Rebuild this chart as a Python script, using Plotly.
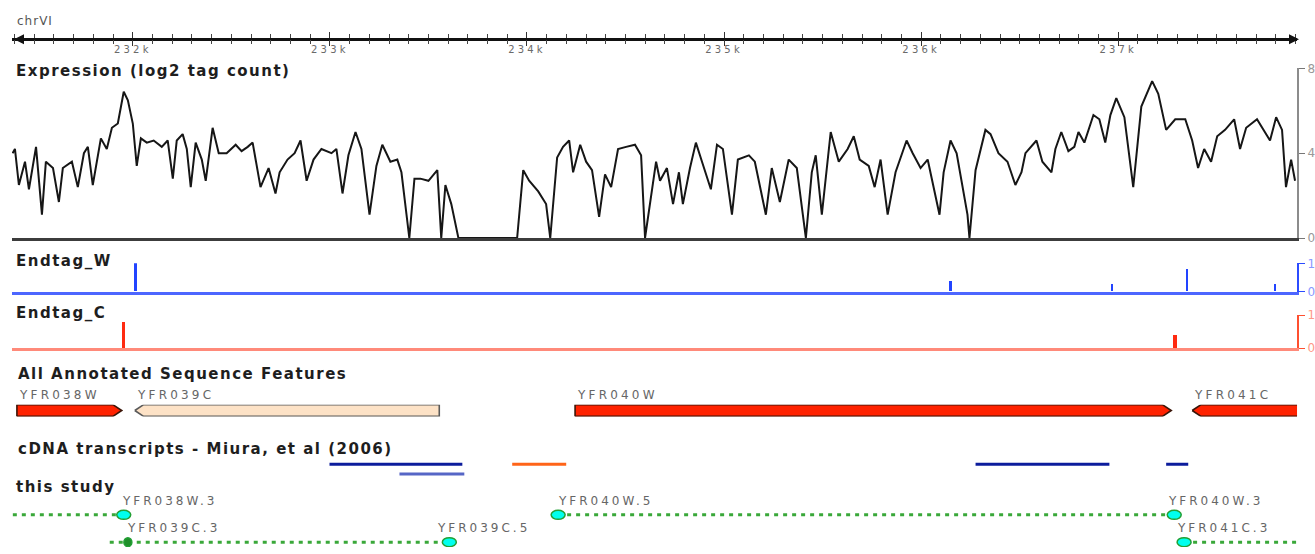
import plotly.graph_objects as go

W, H = 1315, 554

# ---- genome window and ruler ----
view_start, view_end = 231387, 237907
ruler_ticks = [232000, 233000, 234000, 235000, 236000, 237000]
ruler_labels = ["232k", "233k", "234k", "235k", "236k", "237k"]

# ---- expression track (log2 tag count) ----
expr_pos = [
    231390, 231402, 231422, 231453, 231473, 231509, 231539, 231559, 231595, 231625,
    231645, 231691, 231721, 231752, 231772, 231797, 231838, 231868, 231894, 231924,
    231954, 231975, 232000, 232020, 232041, 232071, 232106, 232147, 232177, 232203,
    232223, 232253, 232274, 232294, 232319, 232350, 232370, 232405, 232436, 232476,
    232522, 232552, 232583, 232608, 232648, 232689, 232724, 232745, 232785, 232821,
    232851, 232882, 232917, 232957, 233008, 233033, 233064, 233094, 233130, 233160,
    233201, 233236, 233266, 233307, 233342, 233363, 233403, 233429, 233459, 233500,
    233545, 233565, 233586, 233616, 233652, 233950, 233981, 234011, 234057, 234097,
    234118, 234153, 234183, 234214, 234234, 234270, 234300, 234330, 234366, 234396,
    234427, 234462, 234503, 234548, 234579, 234599, 234655, 234675, 234710, 234741,
    234771, 234791, 234827, 234857, 234888, 234933, 234964, 234994, 235040, 235070,
    235126, 235156, 235212, 235242, 235283, 235328, 235369, 235415, 235445, 235465,
    235496, 235541, 235582, 235627, 235658, 235688, 235734, 235764, 235794, 235830,
    235870, 235926, 235957, 235997, 236033, 236093, 236114, 236149, 236180, 236235,
    236245, 236276, 236326, 236352, 236392, 236438, 236478, 236509, 236529, 236585,
    236615, 236661, 236681, 236711, 236747, 236777, 236798, 236828, 236874, 236904,
    236934, 236960, 236990, 237031, 237076, 237117, 237172, 237203, 237243, 237289,
    237340, 237375, 237405, 237436, 237471, 237502, 237542, 237588, 237618, 237649,
    237704, 237735, 237770, 237801, 237831, 237851, 237877, 237897,
]
expr_val = [
    4.0, 4.2, 2.5, 3.6, 2.3, 4.3, 1.1, 3.6, 3.3, 1.7,
    3.3, 3.6, 2.4, 4.0, 4.3, 2.5, 4.7, 4.2, 5.2, 5.4,
    6.9, 6.5, 5.4, 3.4, 4.7, 4.5, 4.6, 4.3, 4.6, 2.8,
    4.6, 4.9, 4.2, 2.4, 4.5, 3.7, 2.7, 5.2, 4.0, 4.0,
    4.4, 4.1, 4.3, 4.5, 2.4, 3.3, 2.1, 3.1, 3.7, 4.0,
    4.6, 2.7, 3.7, 4.2, 4.0, 4.2, 2.1, 3.9, 5.0, 4.2,
    1.1, 3.4, 4.4, 3.6, 3.7, 3.1, 0.0, 2.8, 2.8, 2.7,
    3.2, 0.0, 2.5, 1.6, 0.0, 0.0, 3.2, 2.7, 2.2, 1.6,
    0.0, 3.8, 4.3, 4.6, 3.1, 4.4, 3.6, 3.2, 1.0, 3.0,
    2.4, 4.2, 4.3, 4.4, 3.9, 0.0, 3.6, 2.7, 3.3, 1.6,
    3.1, 1.6, 3.3, 4.5, 3.6, 2.3, 4.4, 4.2, 1.1, 3.7,
    3.9, 3.6, 1.1, 3.3, 1.7, 3.7, 3.3, 0.0, 3.1, 3.9,
    1.1, 5.0, 3.6, 4.2, 4.8, 3.7, 3.4, 2.4, 3.7, 1.1,
    3.1, 4.6, 4.0, 3.3, 3.7, 1.1, 3.1, 4.6, 4.0, 1.1,
    0.0, 3.2, 5.1, 4.9, 4.0, 3.6, 2.5, 3.1, 4.0, 4.6,
    3.6, 3.1, 4.2, 5.0, 4.1, 4.3, 5.0, 4.5, 5.8, 5.6,
    4.5, 5.8, 6.6, 5.7, 2.4, 6.2, 7.4, 6.8, 5.1, 5.6,
    5.6, 4.6, 3.3, 4.2, 3.6, 4.8, 5.1, 5.6, 4.2, 5.2,
    5.6, 5.1, 4.6, 5.7, 5.1, 2.4, 3.7, 2.7,
]

# ---- end-tag tracks ----
endtag_w_pos = [232015, 236149, 236970, 237350, 237796]
endtag_w_val = [1.0, 0.35, 0.25, 0.8, 0.25]
endtag_c_pos = [231954, 237289]
endtag_c_val = [0.8, 0.4]

# ---- annotated sequence features ----
gene_names = ["YFR038W", "YFR039C", "YFR040W", "YFR041C"]
gene_start = [231412, 232010, 234244, 237375]
gene_end = [231944, 233555, 237269, 237930]
gene_strand = ["+", "-", "+", "-"]

# ---- cDNA transcripts (Miura et al. 2006) ----
cdna_start = [232998, 233353, 233925, 236276, 237243]
cdna_end = [233672, 233682, 234199, 236955, 237355]
cdna_lane = [0, 1, 0, 0, 0]

# ---- transcripts from this study ----
study_genes = ["YFR038W", "YFR039C", "YFR040W", "YFR041C"]
study_lane = [0, 1, 0, 1]
study_start = [231300, 231883, 234158, 237334]
study_end = [231954, 233606, 237284, 238050]
end_names = ["YFR038W.3", "YFR039C.3", "YFR039C.5", "YFR040W.5", "YFR040W.3", "YFR041C.3"]
end_pos = [231954, 231975, 233606, 234158, 237284, 237334]
end_lane = [0, 1, 1, 0, 0, 1]


def dom(top_px, bottom_px):
    return [1 - bottom_px / H, 1 - top_px / H]


def py(p):
    return 1 - p / H


def spaced(text, ls):
    return f'<span style="letter-spacing:{ls}px">{text}</span>'


XDOM = [12 / W, 1299 / W]
FONT = "DejaVu Sans"

fig = go.Figure()

# expression line
fig.add_trace(go.Scatter(x=expr_pos, y=expr_val, mode="lines", xaxis="x2", yaxis="y",
                         line=dict(color="#161616", width=2), hoverinfo="skip"))
# placeholder traces so the ruler axes get a subplot
fig.add_trace(go.Scatter(x=[], y=[], xaxis="x", yaxis="y", showlegend=False))
fig.add_trace(go.Scatter(x=[], y=[], xaxis="x8", yaxis="y", showlegend=False))

# end tags
fig.add_trace(go.Bar(x=endtag_w_pos, y=endtag_w_val, width=[15, 11, 10, 11, 10],
                     marker=dict(color="#2244ff", line_width=0), xaxis="x3", yaxis="y2"))
fig.add_trace(go.Bar(x=endtag_c_pos, y=endtag_c_val, width=[15, 22],
                     marker=dict(color="#ff2a10", line_width=0), xaxis="x4", yaxis="y3"))

# gene arrows
TIP = 45
for name, s, e, strand in zip(gene_names, gene_start, gene_end, gene_strand):
    if strand == "+":
        xs = [s, e - TIP, e, e - TIP, s, s]
        ys = [0, 0, 0.5, 1, 1, 0]
    else:
        xs = [s, s + TIP, e, e, s + TIP, s]
        ys = [0.5, 0, 0, 1, 1, 0.5]
    light = name == "YFR039C"
    fig.add_trace(go.Scatter(
        x=xs, y=ys, mode="lines", fill="toself",
        fillcolor="#fde2c6" if light else "#ff2200",
        line=dict(color="#5a5a5a" if light else "#3a1508", width=1.6),
        xaxis="x5", yaxis="y4", hoverinfo="skip"))
    fig.add_annotation(x=max(s, view_start), y=1, xref="x5", yref="y4",
                       text=spaced(name, 3.2), showarrow=False, xanchor="left",
                       yanchor="bottom", yshift=1,
                       font=dict(family=FONT, size=12, color="#666666"))

# cDNA transcripts
cdna_colors = ["#0c1c9c", "#5666c6", "#ff6418", "#0c1c9c", "#0c1c9c"]
for s, e, lane, c in zip(cdna_start, cdna_end, cdna_lane, cdna_colors):
    fig.add_trace(go.Scatter(x=[s, e], y=[lane, lane], mode="lines",
                             line=dict(color=c, width=3), xaxis="x6", yaxis="y5",
                             hoverinfo="skip"))

# study transcripts: dotted spans
for s, e, lane in zip(study_start, study_end, study_lane):
    fig.add_trace(go.Scatter(x=[s, e], y=[lane, lane], mode="lines",
                             line=dict(color="#3aa83a", width=3, dash="4px,5px"),
                             xaxis="x7", yaxis="y6", hoverinfo="skip"))

# study transcripts: end markers and labels
label_shift = {"YFR038W.3": -4, "YFR039C.3": -3, "YFR039C.5": -14,
               "YFR040W.5": -2, "YFR040W.3": -8, "YFR041C.3": -9}
for nm, p, lane in zip(end_names, end_pos, end_lane):
    small = nm == "YFR039C.3"
    fig.add_shape(type="circle", xref="x7", yref="y6",
                  xsizemode="pixel", xanchor=p, x0=-4 if small else -7, x1=4 if small else 7,
                  ysizemode="pixel", yanchor=lane, y0=-4.5, y1=4.5,
                  fillcolor="#1f8f2a" if small else "#00ffee",
                  line=dict(color="#22a034", width=1.5))
    fig.add_annotation(x=p, y=lane, xref="x7", yref="y6", text=spaced(nm, 3.0),
                       showarrow=False, xanchor="left", yanchor="middle",
                       xshift=label_shift[nm], yshift=14,
                       font=dict(family=FONT, size=12, color="#666666"))

# track titles
titles = [("chrVI", 15, 14, False),
          ("Expression (log2 tag count)", 14, 66, True),
          ("Endtag_W", 14, 261, True),
          ("Endtag_C", 14, 314, True),
          ("All Annotated Sequence Features", 16, 377, True),
          ("cDNA transcripts - Miura, et al (2006)", 16, 453, True),
          ("this study", 14, 492, True)]
for txt, xp, yp, bold in titles:
    fig.add_annotation(x=xp / W, y=py(yp), xref="paper", yref="paper",
                       text=spaced(txt, 1.5 if bold else 1.0), showarrow=False,
                       xanchor="left", yanchor="middle",
                       font=dict(family=FONT, size=15 if bold else 12,
                                 color="#1e1e1e" if bold else "#555555",
                                 weight="bold" if bold else "normal"))

# ruler end arrows
for xp, ax in [(14, 9), (1301, -9)]:
    fig.add_annotation(x=xp / W, y=py(33), xref="paper", yref="paper", text="",
                       showarrow=True, arrowhead=2, arrowsize=1, arrowwidth=2,
                       arrowcolor="#111111", ax=ax, ay=0)

hidden_x = dict(matches="x", domain=XDOM, showticklabels=False, ticks="",
                showgrid=False, zeroline=False)

# ruler: labelled axis carries the upward tick halves, overlay the downward halves
ruler_common = dict(domain=XDOM, anchor="free", position=py(33), side="bottom",
                    tickmode="array", tickvals=ruler_ticks,
                    ticklen=6, tickwidth=1, tickcolor="#333333",
                    showgrid=False, zeroline=False)

fig.update_layout(
    width=W, height=H, margin=dict(l=0, r=0, t=0, b=0),
    paper_bgcolor="white", plot_bgcolor="rgba(0,0,0,0)", showlegend=False,
    bargap=0,
    xaxis=dict(ruler_common, range=[view_start, view_end], autorange=False,
               showline=True, linecolor="#111111", linewidth=3,
               ticktext=[spaced(t, 3.2) for t in ruler_labels], ticks="inside",
               tickfont=dict(family=FONT, size=10, color="#6a6a6a"),
               minor=dict(tickmode="linear", tick0=232000, dtick=100, ticks="inside",
                          ticklen=4, tickwidth=1, tickcolor="#444444")),
    xaxis8=dict(ruler_common, matches="x", overlaying="x", showline=False,
                showticklabels=False, ticks="outside",
                minor=dict(tickmode="linear", tick0=232000, dtick=100, ticks="outside",
                           ticklen=4, tickwidth=1, tickcolor="#444444")),
    xaxis2=dict(hidden_x, anchor="y", showline=True, linecolor="#3c3c3c", linewidth=3),
    xaxis3=dict(hidden_x, anchor="y2", showline=True, linecolor="#4d66ff", linewidth=3),
    xaxis4=dict(hidden_x, anchor="y3", showline=True, linecolor="#ff8a7a", linewidth=3),
    xaxis5=dict(hidden_x, anchor="y4", showline=False, visible=False),
    xaxis6=dict(hidden_x, anchor="y5", showline=False, visible=False),
    xaxis7=dict(hidden_x, anchor="y6", showline=False, visible=False),
    yaxis=dict(domain=dom(63, 237), range=[0, 8], anchor="x2", side="right",
               showline=True, linecolor="#8c8c8c", linewidth=2,
               tickvals=[0, 4, 8], ticks="outside", ticklen=6, tickcolor="#777777",
               tickfont=dict(family=FONT, size=12, color="#999999"),
               showgrid=False, zeroline=False),
    yaxis2=dict(domain=dom(263, 292), range=[0, 1], anchor="x3", side="right",
                showline=True, linecolor="#2c4cff", linewidth=2,
                tickvals=[0, 1], ticks="outside", ticklen=6, tickcolor="#2c4cff",
                tickfont=dict(family=FONT, size=12, color="#8899ff"),
                showgrid=False, zeroline=False),
    yaxis3=dict(domain=dom(316, 350), range=[0, 1], anchor="x4", side="right",
                showline=True, linecolor="#ff5030", linewidth=2,
                tickvals=[0, 1], ticks="outside", ticklen=6, tickcolor="#ff5030",
                tickfont=dict(family=FONT, size=12, color="#ff9988"),
                showgrid=False, zeroline=False),
    yaxis4=dict(domain=dom(408, 420), range=[0, 1], anchor="x5", visible=False),
    yaxis5=dict(domain=dom(464, 484), range=[1.5, -0.5], anchor="x6", visible=False),
    yaxis6=dict(domain=dom(507, 554), range=[1 + 5 / 28, -0.5], anchor="x7", visible=False),
)

fig.write_html("out.html")
